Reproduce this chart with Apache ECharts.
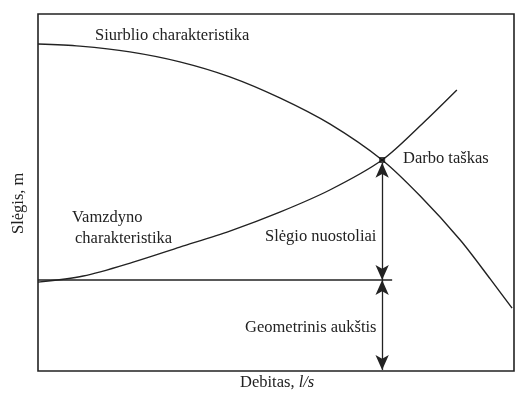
<!DOCTYPE html>
<html><head><meta charset="utf-8">
<script src="https://cdn.jsdelivr.net/npm/echarts@6/dist/echarts.min.js"></script>
<style>html,body{margin:0;padding:0;background:#fff}#c{width:515px;height:394px}</style>
</head><body><div id="c"></div>
<script>
// Data in normalized units (x: flow 0-100, y: head 0-100)
const pumpCurve = [[0,91.6],[8.8,91.0],[19.3,89.4],[29.8,86.6],[40.3,82.4],[50.8,76.5],[61.3,69.2],[72.3,59.1],[80.3,49.0],[88.7,36.7],[95.0,25.8],[99.6,17.6]];
const systemCurve = [[0,24.9],[9.5,26.6],[20,30.5],[29.8,34.7],[40.3,39.2],[50.8,44.5],[61.3,50.7],[72.3,59.1],[80.7,69.2],[88,78.7]];
const staticHead = 25.5;
const staticLineEnd = 74.4;
const operatingPoint = [72.3, 59.1];
const labels = {
  pump: 'Siurblio charakteristika',
  system1: 'Vamzdyno',
  system2: 'charakteristika',
  point: 'Darbo taškas',
  losses: 'Slėgio nuostoliai',
  geo: 'Geometrinis aukštis',
  xName: 'Debitas, ',
  xUnit: 'l/s',
  yName: 'Slėgis, m'
};

const font = '"Liberation Serif", "DejaVu Serif", serif';
const fs = '16.5px ';
const col = '#222';
const chart = echarts.init(document.getElementById('c'));
const arrowStyle = {color: col, width: 1.3, type: 'solid'};
chart.setOption({
  animation: false,
  grid: {left: 38, top: 14, width: 476, height: 357, show: true, borderColor: col, borderWidth: 1.6, backgroundColor: 'transparent'},
  xAxis: {type: 'value', min: 0, max: 100, axisLine: {show: false}, axisTick: {show: false}, axisLabel: {show: false}, splitLine: {show: false}},
  yAxis: {type: 'value', min: 0, max: 100, axisLine: {show: false}, axisTick: {show: false}, axisLabel: {show: false}, splitLine: {show: false}},
  series: [
    {type: 'line', data: pumpCurve, smooth: 0.3, symbol: 'none', lineStyle: {color: col, width: 1.4}},
    {type: 'line', data: systemCurve, smooth: 0.3, symbol: 'none', lineStyle: {color: col, width: 1.4}},
    {type: 'line', data: [[0, staticHead], [staticLineEnd, staticHead]], symbol: 'none', lineStyle: {color: col, width: 1.4}},
    {type: 'line', data: [], symbol: 'none',
      markLine: {silent: true, symbol: ['arrow', 'arrow'], symbolSize: [10, 15], label: {show: false},
        lineStyle: arrowStyle,
        data: [
          [{coord: [operatingPoint[0], operatingPoint[1] - 0.8]}, {coord: [operatingPoint[0], staticHead]}],
          [{coord: [operatingPoint[0], staticHead]}, {coord: [operatingPoint[0], 0.3]}]
        ]}},
    {type: 'scatter', data: [operatingPoint], symbol: 'rect', symbolSize: 6, itemStyle: {color: '#111'}, z: 5}
  ],
  graphic: [
    {type: 'text', left: 95, top: 27, style: {text: labels.pump, font: fs + font, fill: col}},
    {type: 'text', left: 403, top: 150, style: {text: labels.point, font: fs + font, fill: col}},
    {type: 'text', left: 72, top: 209, style: {text: labels.system1, font: fs + font, fill: col}},
    {type: 'text', left: 75, top: 230, style: {text: labels.system2, font: fs + font, fill: col}},
    {type: 'text', left: 265, top: 228, style: {text: labels.losses, font: fs + font, fill: col}},
    {type: 'text', left: 245, top: 319, style: {text: labels.geo, font: fs + font, fill: col}},
    {type: 'text', left: 240, top: 374, style: {text: '{a|' + labels.xName + '}{b|' + labels.xUnit + '}', rich: {a: {font: fs + font, fill: col}, b: {font: 'italic ' + fs + font, fill: col}}}},
    {type: 'text', x: 10, y: 234, rotation: Math.PI / 2, style: {text: labels.yName, font: fs + font, fill: col}}
  ]
});
</script></body></html>
